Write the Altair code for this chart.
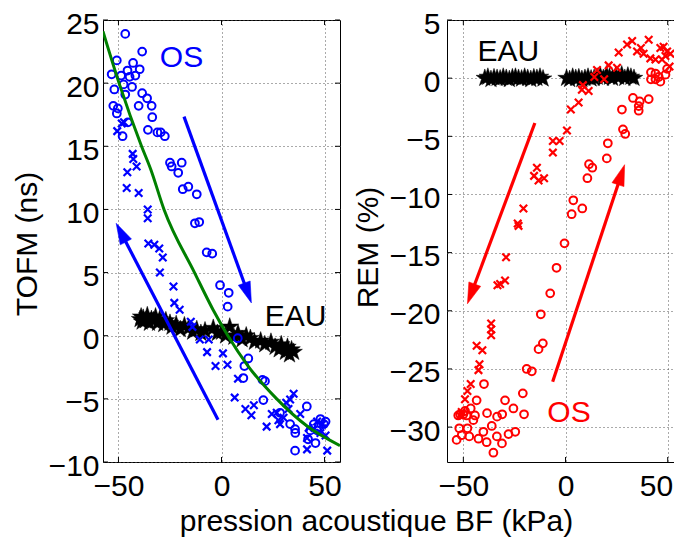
import math
import altair as alt
import pandas as pd

FONT = "Liberation Sans"
FS = 30
BLUE = "#0000ff"
RED = "#ff0000"
GREEN = "#008000"

# ---------------- left panel : TOFM (ns) ----------------
os_left_x = [-46.7, -38.5, -50.8, -42.9, -53.3, -48.7, -45.6, -41.8, -39.7, -44.6, -47.5, -43.4, -52.0,
             -46.7, -38.5, -36.1, -40.2, -33.9, -52.5, -50.3, -50.8, -33.6, -45.4, -35.7, -31.1, -29.5,
             -27.5, -48.0, -25.0, -19.3, -21.0, -24.2, -18.8, -16.1, -12.0, -12.9, -10.8, -7.2, -4.5,
             -0.7, 3.5, 3.0, 7.9, 13.0, 11.1, 10.6, 19.9, 21.1, 20.3, 28.4, 33.3, 35.7, 35.8, 35.7, 41.4,
             44.8, 46.4, 48.0, 49.7, 45.6, 43.1, 47.2, 50.5, 42.0]
os_left_y = [23.9, 22.5, 21.8, 21.6, 20.7, 20.6, 21.0, 20.6, 21.1, 20.5, 19.9, 19.7, 19.5,
             19.1, 19.2, 18.8, 18.2, 18.2, 18.2, 18.0, 17.6, 17.3, 16.9, 16.3, 16.1, 16.1,
             15.8, 15.8, 13.7, 13.7, 12.9, 13.4, 11.6, 11.8, 11.2, 8.9, 9.0, 6.6, 6.5,
             4.0, 3.4, 2.3, -0.2, -1.8, -2.4, -3.35, -3.5, -3.6, -5.1, -6.1, -7.0, -7.4, -7.7, -9.1, -5.6,
             -7.0, -7.5, -6.6, -7.0, -8.5, -7.5, -7.2, -6.8, -8.2]

ret_left_x = [-50.6, -48.4, -47.3, -43.1, -42.8, -41.2, -45.7, -46.0, -40.2, -35.8, -35.8, -35.5, -32.6,
              -30.2, -28.5, -29.9, -23.3, -22.9, -20.3, -14.9, -14.1, -10.5, -6.2, -7.0, 0.7, -2.9, 2.9,
              8.0, 6.4, 11.6, 14.5, 15.7, 21.9, 24.4, 26.8, 27.6, 30.1, 31.4, 33.3, 35.0, 32.5, 28.4,
              38.2, 42.3, 41.5, 41.5, 48.0, 50.5, 51.3, 46.4, 48.9]
ret_left_y = [16.2, 16.8, 16.9, 14.4, 14.0, 13.4, 12.95, 11.7, 11.3, 10.0, 9.3, 7.3, 7.2,
              6.9, 6.2, 5.0, 3.9, 2.6, 2.05, 1.1, 0.7, -0.3, -0.3, -1.3, -1.4, -2.4, -2.3,
              -3.4, -4.9, -5.8, -6.3, -5.5, -7.2, -6.2, -6.1, -6.7, -6.5, -5.3, -5.05, -4.6, -5.8, -7.0,
              -6.2, -7.3, -8.1, -9.0, -7.7, -7.9, -9.1, -6.8, -7.0]

eau_left_x = [-39.5, -39, -38.5, -38, -37, -36, -35, -34, -33, -32, -31, -30,
              -28, -27, -25, -24, -22, -20, -18, -16, -14, -12, -10, -8,
              -4, -2, 0, 2, 4, 6, 8, 10, 12, 14, 16,
              19, 21, 24, 26, 28, 29, 31, 32, 33, 34, 35]
eau_left_y = [1.3, 1.5, 1.1, 1.4, 1.2, 1.6, 1.0, 1.3, 1.2, 1.5, 1.0, 1.3,
              0.9, 1.2, 1.0, 0.7, 0.9, 0.5, 0.8, 0.6, 0.3, 0.5, 0.2, 0.4,
              0.6, 0.2, 0.3, 0.0, 0.7, -0.1, 0.2, -0.3, 0.0, -0.2, -0.5,
              -0.4, -0.7, -0.5, -0.9, -1.1, -0.7, -1.3, -0.9, -1.5, -1.1, -1.3]

fit_x = [-57.5, -49.7, -38.8, -34.4, -27.9, -13.1, -4.1, 3.1, 12.9, 26.8, 41.5, 57.5]
fit_y = [24.1, 20.0, 15.0, 13.2, 10.0, 5.0, 2.06, 0.0, -2.4, -5.0, -7.15, -8.7]

# arrows: start x, start y, tip x, tip y
arrows_left = [(-18.2, 17.35, 14.5, 2.6), (-1.7, -6.65, -51.1, 8.9)]
labels_left = [("OS", -19.4, 21.3, BLUE), ("EAU", 35.9, 0.8, "black")]

# ---------------- right panel : REM (%) ----------------
os_right_x = [-12.1, -11.1, -13.2, -19.0, -16.5, -39.9, -20.9, -29.6, -25.5, -20.3, -31.0, -33.5, -38.4,
              -36.1, -43.5, -46.4, -51.6, -50.0, -52.5, -45.1, -52.0, -48.0, -53.3, -50.8, -47.1, -42.6,
              -40.2, -38.6, -33.6, -31.1, -27.9, -24.6, -35.3, -49.2, -48.4, -44.3,
              -7.5, -4.4, -0.5, 3.0, 8.2, 3.8, 10.7, 11.5, 13.1, 20.2,
              20.7, 28.1, 29.2, 27.6, 33.0, 40.7, 36.3, 35.8, 35.8, 41.8, 44.0, 45.6, 41.8, 44.0,
              46.4, 48.9, 49.7]
os_right_y = [-20.3, -22.8, -23.3, -25.0, -25.2, -26.3, -27.1, -27.7, -28.4, -28.9, -28.9, -29.1, -28.8,
              -29.9, -27.7, -28.4, -28.9, -28.9, -29.0, -29.4, -30.1, -30.1, -31.1, -30.7, -30.8, -31.0,
              -30.4, -31.3, -30.8, -31.4, -30.6, -30.4, -32.2, -28.6, -29.0, -29.0,
              -18.5, -16.3, -14.2, -11.7, -11.2, -10.5, -8.6, -7.4, -7.7, -6.9,
              -5.6, -4.4, -4.8, -2.7, -1.7, -1.8, -2.0, -2.4, -2.8, 0.5, 0.4, 0.1, -0.1, -0.1,
              -0.3, 0.3, 0.8]

ret_right_x = [26.0, 30.1, 32.6, 40.7, 35.0, 38.2, 36.9, 41.5, 44.0, 46.4, 48.0, 49.7, 51.3, 48.9,
               50.9, 47.2, 21.1, 25.2, 15.4, 14.1, 18.9, 8.5, 8.0, 11.3, 6.4, 2.6, 0.7, -6.2, -2.9,
               -6.2, -14.0, -15.4, -13.2, -10.5, -20.6, -23.4, -23.0, -29.1, -32.0, -29.6, -33.3,
               -36.4, -36.4, -36.4, -43.5, -40.7, -42.1, -42.6, -46.4, -48.0, -49.2, -50.8, -51.6]
ret_right_y = [2.2, 2.9, 3.2, 3.3, 2.3, 2.1, 2.6, 1.7, 1.6, 2.6, 2.7, 2.3, 2.1, 1.9,
               1.0, 1.6, 1.1, 0.9, 0.7, 0.1, -0.1, -0.6, -1.0, -1.1, -2.1, -2.7, -4.5, -5.4, -5.4,
               -6.4, -7.7, -8.4, -8.8, -8.6, -11.2, -12.5, -12.7, -15.4, -17.7, -17.4, -17.8,
               -21.1, -21.6, -22.1, -23.0, -23.4, -24.6, -25.1, -26.3, -26.9, -27.6, -28.7, -29.0]

eau_right_x = [-39.5, -38, -36.5, -35, -33.5, -32, -30.5, -29, -27.5, -26, -24.5, -23, -21.5, -20,
               -18.5, -17, -15.5, -14, -12.5, -11,
               0.5, 2, 3.5, 5, 6.5, 8, 9.5, 11, 12.5, 14, 15.5, 17, 18.5, 20, 21.5, 23, 24.5,
               26, 27.5, 29, 30.5, 32, 33.5]
eau_right_y = [0.0, 0.1, -0.1, 0.05, 0.0, -0.05, 0.1, 0.0, -0.1, 0.05, 0.1, 0.0, -0.05, 0.1,
               0.0, -0.1, 0.05, 0.0, 0.1, -0.05,
               0.0, -0.1, 0.1, 0.0, 0.05, -0.1, 0.0, 0.1, -0.05, 0.0, 0.1, 0.2, 0.0, 0.3, 0.1, 0.0,
               0.2, 0.1, 0.3, 0.0, 0.2, 0.1, 0.0]

arrows_right = [(-15.0, -3.86, -48.0, -19.4), (-6.3, -26.1, 28.9, -7.44)]
labels_right = [("EAU", -28.0, 1.5, "black"), ("OS", 1.7, -29.6, RED)]

x_ticks = [-50, 0, 50]
y_ticks_left = [-10, -5, 0, 5, 10, 15, 20, 25]
y_ticks_right = [-30, -25, -20, -15, -10, -5, 0, 5]

STAR = ("M0,-1L0.2245,-0.309L0.951,-0.309L0.363,0.118L0.588,0.809L0,0.382"
        "L-0.588,0.809L-0.363,0.118L-0.951,-0.309L-0.2245,-0.309Z")
XMARK = "M-1,-1L1,1M-1,1L1,-1"
HEAD = "M0,0L0.6,2L-0.6,2Z"


def arrow_frame(segs, kx, ky, head_len=14):
    rows = []
    for x0, y0, x1, y1 in segs:
        dx = (x1 - x0) * kx
        dy = -(y1 - y0) * ky
        L = math.hypot(dx, dy)
        ang = math.degrees(math.atan2(dx, -dy)) % 360
        xb = x1 - (dx / L) * head_len / kx
        yb = y1 + (dy / L) * head_len / ky
        rows.append(dict(x=x0, y=y0, x2=xb, y2=yb, tx=x1, ty=y1, angle=ang))
    return pd.DataFrame(rows)


def panel(xdom, ydom, yticks, w, h, circ, cross, stars, color, arrows, labels,
          ytitle, ylabpad, ytx, yty, xtitle, xflush, fit=None):
    kx = w / (xdom[1] - xdom[0])
    ky = h / (ydom[1] - ydom[0])
    xscale = alt.Scale(domain=xdom, nice=False, zero=False)
    yscale = alt.Scale(domain=ydom, nice=False, zero=False)
    xaxis_kw = dict(values=x_ticks, grid=True, gridDash=[1, 3], gridColor="#555555", gridWidth=1,
                    labelPadding=9, tickSize=0, domain=False, format="d",
                    labelFont=FONT, labelFontSize=FS, labelColor="black")
    if xflush:
        # keep the last tick label inside the page edge
        xaxis_kw.update(labelFlush=15, labelFlushOffset=5)
    else:
        xaxis_kw.update(labelFlush=False)
    if xtitle:
        xaxis_kw.update(titleX=273, titleY=68, titleAlign="center", titleBaseline="alphabetic",
                        titleAngle=0, titleFont=FONT, titleFontSize=FS, titleFontWeight="normal",
                        titleColor="black")
    xaxis = alt.Axis(**xaxis_kw)
    yaxis = alt.Axis(values=yticks, grid=True, gridDash=[1, 3], gridColor="#555555", gridWidth=1,
                     labelPadding=ylabpad, tickSize=0, domain=False, labelFlush=False, format="d",
                     labelBaseline="alphabetic", labelOffset=13,
                     labelFont=FONT, labelFontSize=FS, labelColor="black",
                     titleX=ytx, titleY=yty, titleAngle=270,
                     titleBaseline="bottom", titleAlign="center", titleFont=FONT, titleFontSize=FS,
                     titleFontWeight="normal", titleColor="black")

    def X(f):
        if xtitle:
            return alt.X(f, type="quantitative", scale=xscale, axis=xaxis, title=xtitle)
        return alt.X(f, type="quantitative", scale=xscale, axis=xaxis, title=None)

    def Y(f):
        return alt.Y(f, type="quantitative", scale=yscale, axis=yaxis, title=ytitle)

    layers = []
    st = pd.DataFrame({"x": stars[0], "y": stars[1]})
    layers.append(alt.Chart(st).mark_point(shape=STAR, filled=True, fill="black", stroke="black",
                                           strokeWidth=0.5, size=340, opacity=1, clip=True)
                  .encode(x=X("x"), y=Y("y")))
    ci = pd.DataFrame({"x": circ[0], "y": circ[1]})
    layers.append(alt.Chart(ci).mark_point(shape="circle", filled=False, stroke=color,
                                           strokeWidth=2, size=60, opacity=1, clip=True)
                  .encode(x=X("x"), y=Y("y")))
    cr = pd.DataFrame({"x": cross[0], "y": cross[1]})
    layers.append(alt.Chart(cr).mark_point(shape=XMARK, filled=False, stroke=color,
                                           strokeWidth=2.2, size=56, opacity=1, clip=True)
                  .encode(x=X("x"), y=Y("y")))
    if fit is not None:
        fd = pd.DataFrame({"x": fit[0], "y": fit[1], "o": list(range(len(fit[0])))})
        layers.append(alt.Chart(fd).mark_line(color=GREEN, strokeWidth=3, interpolate="monotone",
                                              clip=True)
                      .encode(x=X("x"), y=Y("y"), order="o:Q"))
    ad = arrow_frame(arrows, kx, ky)
    layers.append(alt.Chart(ad).mark_rule(color=color, strokeWidth=3.2, strokeCap="butt")
                  .encode(x=X("x"), y=Y("y"), x2="x2", y2="y2"))
    layers.append(alt.Chart(ad).mark_point(shape=HEAD, filled=True, fill=color, stroke=color,
                                           strokeWidth=0.5, size=441, opacity=1)
                  .encode(x=X("tx"), y=Y("ty"), angle=alt.Angle("angle:Q", scale=None)))
    for txt, lx, ly, lc in labels:
        td = pd.DataFrame({"x": [lx], "y": [ly], "t": [txt]})
        layers.append(alt.Chart(td).mark_text(font=FONT, fontSize=FS, color=lc, align="center",
                                              baseline="alphabetic")
                      .encode(x=X("x"), y=Y("y"), text="t:N"))
    # inward tick marks on the box
    xt = pd.DataFrame({"v": x_ticks})
    layers.append(alt.Chart(xt).mark_rule(color="black", strokeWidth=1)
                  .encode(x=X("v"), y=alt.value(h), y2=alt.value(h - 5)))
    layers.append(alt.Chart(xt).mark_rule(color="black", strokeWidth=1)
                  .encode(x=X("v"), y=alt.value(0), y2=alt.value(5)))
    yt = pd.DataFrame({"v": yticks})
    layers.append(alt.Chart(yt).mark_rule(color="black", strokeWidth=1)
                  .encode(y=Y("v"), x=alt.value(0), x2=alt.value(5)))
    layers.append(alt.Chart(yt).mark_rule(color="black", strokeWidth=1)
                  .encode(y=Y("v"), x=alt.value(w), x2=alt.value(w - 5)))
    return alt.layer(*layers).properties(width=w, height=h)


left = panel([-57.5, 57.5], [-10, 25], y_ticks_left, 237, 442,
             (os_left_x, os_left_y), (ret_left_x, ret_left_y), (eau_left_x, eau_left_y), BLUE,
             arrows_left, labels_left, "TOFM (ns)", 4, -60.5, 223.5, "pression acoustique BF (kPa)",
             False, fit=(fit_x, fit_y))
right = panel([-58, 56.5], [-33, 5], y_ticks_right, 234, 442,
              (os_right_x, os_right_y), (ret_right_x, ret_right_y), (eau_right_x, eau_right_y), RED,
              arrows_right, labels_right, "REM (%)", 7, -63.8, 227, None, True)

# fixed canvas: the svg is exactly the page's usable width (666 px) so it is never shrunk
chart = (alt.hconcat(left, right, spacing=107, bounds="flush")
         .properties(autosize=alt.AutoSizeParams(type="none"),
                     padding={"left": 95, "top": 12, "right": 571, "bottom": 518})
         .configure(font=FONT)
         .configure_view(stroke="black", strokeWidth=1))

chart.save("out.html", embed_options={"renderer": "svg", "actions": False})
